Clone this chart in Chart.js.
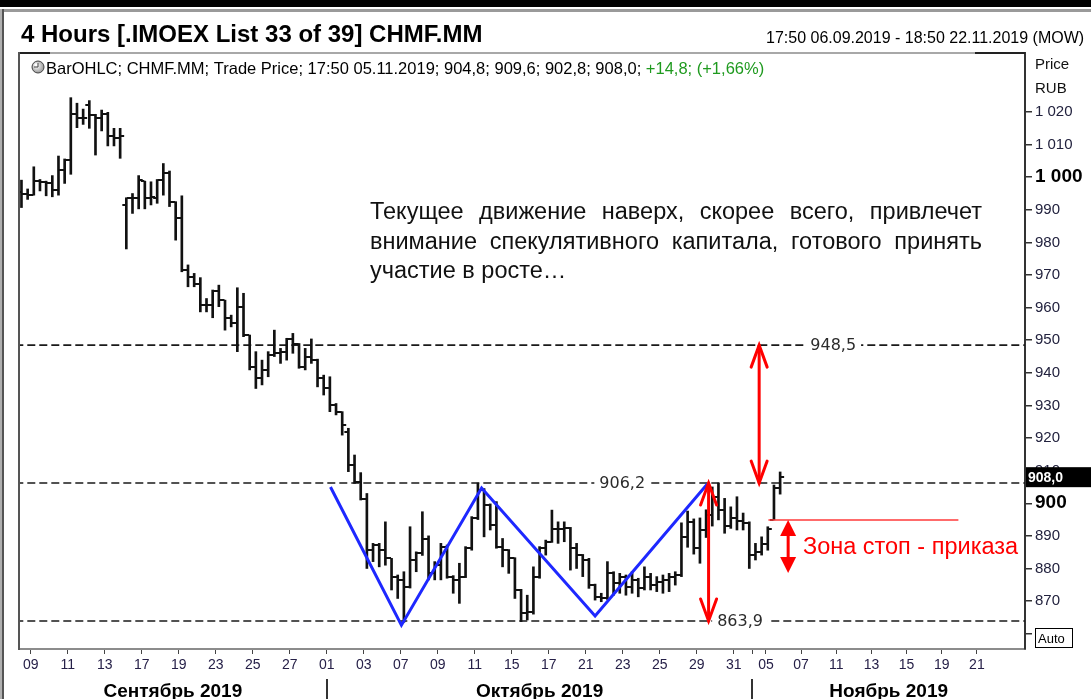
<!DOCTYPE html>
<html><head><meta charset="utf-8">
<script src="https://cdn.jsdelivr.net/npm/chart.js@4/dist/chart.umd.min.js"></script>
<style>html,body{margin:0;padding:0;background:#fff;overflow:hidden}canvas{display:block}</style>
</head><body><canvas id="c" width="1091" height="699"></canvas>
<script>
// ---- DATA (4-hour OHLC bars, CHMF.MM, from 17:50 06.09.2019 to 17:50 05.11.2019) ----
const barOpen = [
 995.4,995.0,994.7,998.9,998.6,998.1,996.1,1002.2,1005.3,1019.3,
 1018.1,1022.1,1019.1,1018.1,1019.3,1012.7,1011.9,991.5,993.5,993.5,
 998.8,993.5,993.5,999.0,1001.2,992.5,987.4,971.5,969.5,967.4,
 960.8,960.8,965.0,962.3,956.7,955.2,960.3,951.6,941.9,938.3,
 940.9,945.5,946.0,946.5,950.4,949.0,941.9,945.0,943.9,938.3,
 935.2,930.1,928.1,922.0,911.7,906.6,901.2,885.6,887.2,885.6,
 883.1,877.5,876.5,874.4,882.6,884.6,889.0,878.5,881.0,886.7,
 877.5,876.5,877.5,886.2,895.4,904.0,899.5,893.3,886.7,885.6,
 883.1,873.4,866.2,866.5,877.5,886.2,888.2,892.0,892.0,892.3,
 886.2,884.1,882.6,874.9,871.3,870.8,878.5,875.4,877.5,874.4,
 876.5,873.9,877.5,874.9,875.9,876.5,877.5,878.0,889.7,894.3,
 886.2,891.8,896.5,902.0,898.0,893.0,895.5,894.5,893.8,884.0,
 885.0,887.5,895.0,904.8];
const barHigh = [
 999.1,996.4,1003.2,999.3,998.8,1000.5,1006.5,1005.6,1024.4,1022.7,
 1020.9,1023.5,1019.3,1020.6,1019.9,1015.0,1015.0,993.7,995.0,1000.5,
 998.8,998.6,999.3,1004.2,1001.9,992.5,994.3,973.1,970.5,969.2,
 962.8,965.4,966.9,962.3,957.7,966.1,964.4,951.6,946.5,943.9,
 946.5,953.1,947.5,950.6,952.1,949.0,947.5,950.4,944.2,939.3,
 938.8,930.6,928.1,923.0,914.8,909.4,903.0,887.7,887.7,894.3,
 883.1,878.0,879.0,892.8,885.1,897.4,890.0,882.1,887.7,887.2,
 877.8,881.6,886.7,895.9,906.2,904.5,899.8,900.5,889.2,885.8,
 883.3,873.6,871.8,880.5,886.7,888.7,897.9,894.3,894.3,892.6,
 887.7,884.3,883.1,875.2,872.4,882.1,879.0,878.5,878.0,879.0,
 877.0,880.5,878.5,877.5,878.0,878.5,879.0,894.0,897.6,895.2,
 895.5,898.0,905.0,906.2,901.5,898.9,902.0,897.0,894.3,887.7,
 889.7,892.8,905.6,909.6];
const barLow = [
 990.7,993.2,994.5,995.8,994.3,994.0,994.5,998.1,1000.9,1015.2,
 1016.2,1015.0,1006.8,1014.2,1009.6,1009.6,1005.8,978.0,988.9,990.3,
 990.3,991.5,992.0,994.5,991.0,980.7,971.0,966.4,966.4,958.7,
 958.7,956.9,960.3,953.1,954.1,946.5,951.1,940.9,935.2,936.3,
 938.8,945.0,942.9,943.9,946.0,941.4,940.9,942.9,935.7,933.2,
 928.1,927.1,920.9,909.7,906.1,901.0,880.0,882.1,880.5,881.0,
 873.4,870.8,863.5,874.0,879.0,884.0,876.5,876.5,876.5,877.0,
 872.4,869.3,877.2,885.6,895.0,889.7,891.8,886.2,880.5,878.5,
 870.8,863.7,864.2,866.0,877.0,884.1,888.0,887.7,888.2,879.5,
 880.0,877.5,873.9,870.3,869.8,870.5,871.8,872.4,871.8,872.4,
 871.3,873.4,873.4,872.9,872.4,872.9,874.9,877.5,886.5,884.4,
 881.6,889.5,893.0,894.9,890.8,892.3,891.8,891.8,880.0,882.6,
 884.1,885.6,894.9,902.8];
const barClose = [
 995.0,994.7,998.9,998.6,998.1,996.1,1002.2,1005.3,1019.3,1018.1,
 1018.1,1019.1,1018.1,1019.3,1012.7,1011.9,1012.5,993.5,993.5,999.0,
 993.5,994.0,999.0,1001.2,992.5,987.4,971.5,969.5,967.4,960.8,
 960.8,965.0,962.3,956.7,955.2,960.3,951.6,941.9,938.3,940.9,
 945.5,946.0,946.5,950.4,949.0,941.9,945.0,943.9,938.3,935.2,
 930.1,928.1,924.0,911.7,906.6,901.2,885.6,887.2,885.6,883.1,
 877.5,876.5,874.4,882.6,884.6,889.0,878.5,881.0,886.7,877.5,
 876.5,877.5,886.2,895.4,904.0,899.5,893.3,886.7,885.6,883.1,
 873.4,866.2,866.5,877.5,886.2,888.2,892.0,892.0,892.3,886.2,
 884.1,882.6,874.9,871.3,870.8,878.5,875.4,877.5,874.4,876.5,
 873.9,877.5,874.9,875.9,876.5,877.5,878.0,889.7,894.3,886.2,
 891.8,896.5,902.0,898.0,893.0,895.5,894.5,893.8,884.0,885.0,
 887.5,892.0,904.8,908.0];

// trading-day axis (day 0 = 09.09.2019, bar 0 = 06.09 17:50; 3 bars per trading day)
const tickDays   = [0,2,4,6,8,10,12,14,16,18,20,22,24,26,28,30,32,34,36,38,39,40,42,44,46,48,50,52];
const tickLabels = ['09','11','13','17','19','23','25','27','01','03','07','09','11','15','17','21','23','25','29','31','','05','07','11','13','15','19','21'];
const monthStartDays = [16, 39];
const monthNames = ['Сентябрь 2019','Октябрь 2019','Ноябрь 2019'];
const priceTicks = [860,870,880,890,900,910,920,930,940,950,960,970,980,990,1000,1010,1020];

// annotations (data units: bar index / price)
const levelValues = [948.5, 906.2, 863.9];
const levelLabels = ['948,5','906,2','863,9'];
const levelLabelAt = [131.6, 97.4, 116.5];
const zigzagIdx = [50.1, 61.6, 74.6, 93.0, 111.2];
const zigzagVal = [905.0, 862.6, 904.7, 865.4, 905.9];
const arrowIdx  = [111.4, 119.6];
const arrowFrom = [863.9, 906.2];
const arrowTo   = [906.2, 948.5];
const stopLineIdx = [121.1, 151.9];
const stopLineVal = 894.9;
const stopArrowIdx = 124.3;
const stopArrowVals = [894.9, 878.6];
const stopText = 'Зона стоп - приказа';
const stopTextAt = [126.7, 886.5];
const commentLines = ['Текущее движение наверх, скорее всего, привлечет','внимание спекулятивного капитала, готового принять','участие в росте…'];
const lastPrice = 908.0;

const BPD = 3, LAST_DATA_DAY = 40, FUTURE_BPD = 2.85;
const dayToBar = d => d <= LAST_DATA_DAY ? 1 + BPD * d + 0.5 - (d === LAST_DATA_DAY ? 0.8 : 0)
                                         : 1 + BPD * LAST_DATA_DAY - 0.3 + (d - LAST_DATA_DAY) * FUTURE_BPD;
const fmtPrice = v => v >= 1000 ? '1 ' + String(v - 1000).padStart(3, '0') : String(v);
const SANS = '"Liberation Sans", Arial, sans-serif';

const overlay = {
  id: 'overlay',
  beforeDraw(chart) {
    const c = chart.ctx; c.save(); c.fillStyle = '#fff'; c.fillRect(0, 0, chart.width, chart.height); c.restore();
  },
  afterDatasetDraw(chart, args) {
    if (args.index !== 3) return;
    const c = chart.ctx, xs = chart.scales.x, ys = chart.scales.y, a = chart.chartArea;
    c.save();
    c.beginPath(); c.rect(a.left, a.top, a.right - a.left, a.bottom - a.top); c.clip();
    c.fillStyle = '#111';
    for (let i = 0; i < barOpen.length; i++) {
      const x = xs.getPixelForValue(i);
      const yo = ys.getPixelForValue(barOpen[i]);
      const yc = ys.getPixelForValue(barClose[i]);
      c.fillRect(x - 4, Math.round(yo) - 1, 3.5, 2);
      c.fillRect(x + 0.5, Math.round(yc) - 1, 3.5, 2);
    }
    c.restore();
  },
  afterDatasetsDraw(chart) {
    const c = chart.ctx, xs = chart.scales.x, ys = chart.scales.y;
    c.save();
    // level labels
    c.font = '16px "DejaVu Sans", sans-serif';
    c.textBaseline = 'middle'; c.textAlign = 'center';
    levelValues.forEach((v, k) => {
      const x = xs.getPixelForValue(levelLabelAt[k]), y = ys.getPixelForValue(v);
      const w = c.measureText(levelLabels[k]).width;
      c.fillStyle = '#fff'; c.fillRect(x - w / 2 - 5, y - 9, w + 10, 18);
      c.fillStyle = '#2b2b2b'; c.fillText(levelLabels[k], x, y + 1);
    });
    // red double arrows (open heads)
    c.strokeStyle = '#ff0000'; c.lineWidth = 3; c.lineCap = 'round';
    arrowIdx.forEach((ix, k) => {
      const x = xs.getPixelForValue(ix), y1 = ys.getPixelForValue(arrowFrom[k]), y2 = ys.getPixelForValue(arrowTo[k]);
      c.beginPath(); c.moveTo(x, y1); c.lineTo(x, y2); c.stroke();
      c.beginPath();
      c.moveTo(x - 8, y2 + 22); c.lineTo(x, y2); c.lineTo(x + 8, y2 + 22);
      c.moveTo(x - 8, y1 - 22); c.lineTo(x, y1); c.lineTo(x + 8, y1 - 22);
      c.stroke();
    });
    // stop zone arrow (filled heads)
    const sx = xs.getPixelForValue(stopArrowIdx), st = ys.getPixelForValue(stopArrowVals[0]), sb = ys.getPixelForValue(stopArrowVals[1]);
    c.fillStyle = '#ff0000';
    c.lineWidth = 3; c.lineCap = 'butt';
    c.beginPath(); c.moveTo(sx, st + 10); c.lineTo(sx, sb - 10); c.stroke();
    c.beginPath(); c.moveTo(sx, st); c.lineTo(sx - 8, st + 16); c.lineTo(sx + 8, st + 16); c.closePath(); c.fill();
    c.beginPath(); c.moveTo(sx, sb); c.lineTo(sx - 8, sb - 16); c.lineTo(sx + 8, sb - 16); c.closePath(); c.fill();
    // stop zone text
    c.font = '23.5px ' + SANS; c.textAlign = 'left'; c.textBaseline = 'middle';
    c.fillText(stopText, xs.getPixelForValue(stopTextAt[0]), ys.getPixelForValue(stopTextAt[1]));
    // comment text (justified)
    c.fillStyle = '#111'; c.font = '23.5px ' + SANS; c.textBaseline = 'alphabetic';
    const left = 370, width = 612, base = [219, 249, 278];
    commentLines.forEach((line, li) => {
      if (li === commentLines.length - 1) { c.fillText(line, left, base[li]); return; }
      const words = line.split(' ');
      const sum = words.reduce((s, w) => s + c.measureText(w).width, 0);
      const gap = (width - sum) / (words.length - 1);
      let cx = left;
      words.forEach(w => { c.fillText(w, cx, base[li]); cx += c.measureText(w).width + gap; });
    });
    c.restore();
  },
  afterDraw(chart) {
    const c = chart.ctx, xs = chart.scales.x, ys = chart.scales.y, a = chart.chartArea;
    c.save();
    // window frame
    c.fillStyle = '#000'; c.fillRect(0, 0, chart.width, 7);
    c.fillStyle = '#9a9a9a'; c.fillRect(0, 9, chart.width, 3);
    c.fillStyle = '#b0b0b0'; c.fillRect(0, 9, 2, chart.height);
    c.fillStyle = '#555'; c.fillRect(2, 9, 2, chart.height);
    // plot frame
    c.fillStyle = '#a8a8a8'; c.fillRect(a.left, a.top - 1, a.right - a.left, 2);
    c.fillStyle = '#222'; c.fillRect(a.left - 1, a.top - 1, 32, 2);
    c.fillStyle = '#222'; c.fillRect(a.right - 50, a.top - 1, 50, 2);
    c.fillStyle = '#555'; c.fillRect(a.left - 1, a.top - 1, 2, a.bottom - a.top + 2);
    // title
    c.fillStyle = '#000'; c.textBaseline = 'alphabetic'; c.textAlign = 'left';
    c.font = 'bold 24px ' + SANS; c.fillText('4 Hours [.IMOEX List 33 of 39] CHMF.MM', 21, 42);
    c.font = '16px ' + SANS; c.fillText('17:50 06.09.2019 - 18:50 22.11.2019 (MOW)', 766, 43);
    // legend
    const lx = 38, ly = 67;
    const g = c.createRadialGradient(lx - 2, ly - 2, 1, lx, ly, 7);
    g.addColorStop(0, '#ffffff'); g.addColorStop(1, '#8a8a8a');
    c.fillStyle = g; c.beginPath(); c.arc(lx, ly, 6, 0, Math.PI * 2); c.fill();
    c.strokeStyle = '#444'; c.lineWidth = 1; c.stroke();
    c.beginPath(); c.moveTo(lx, ly - 4); c.lineTo(lx, ly); c.lineTo(lx - 4, ly); c.stroke();
    c.font = '16.5px ' + SANS; c.fillStyle = '#000';
    const part1 = 'BarOHLC; CHMF.MM; Trade Price; 17:50 05.11.2019; 904,8; 909,6; 902,8; 908,0; ';
    c.fillText(part1, 46, 74);
    c.fillStyle = '#1f9a1f'; c.fillText('+14,8; (+1,66%)', 46 + c.measureText(part1).width, 74);
    // price axis header
    c.fillStyle = '#111'; c.font = '15px ' + SANS;
    c.fillText('Price', 1035, 69); c.fillText('RUB', 1035, 93);
    // last price box
    const yl = ys.getPixelForValue(lastPrice);
    c.fillStyle = '#000'; c.fillRect(a.right + 1, yl - 10, chart.width - a.right, 20);
    c.fillStyle = '#fff'; c.font = 'bold 14px ' + SANS; c.textBaseline = 'middle';
    c.fillText(lastPrice.toFixed(1).replace('.', ','), a.right + 3, yl + 1);
    // auto box
    c.fillStyle = '#fff'; c.fillRect(1035, 628, 37, 19);
    c.strokeStyle = '#000'; c.lineWidth = 1; c.strokeRect(1035.5, 628.5, 37, 19);
    c.fillStyle = '#000'; c.font = '13px ' + SANS; c.textBaseline = 'alphabetic';
    c.fillText('Auto', 1038, 643);
    // month separators and names
    const seps = monthStartDays.map(d => xs.getPixelForValue(dayToBar(d)));
    c.fillStyle = '#333';
    seps.forEach(x => c.fillRect(Math.round(x) - 1, 679, 2, 20));
    const bounds = [a.left, ...seps, a.right];
    c.font = 'bold 19px ' + SANS; c.textAlign = 'center'; c.fillStyle = '#000';
    monthNames.forEach((m, k) => c.fillText(m, (bounds[k] + bounds[k + 1]) / 2, 697));
    c.restore();
  }
};

const levelSets = levelValues.map(v => ({
  type: 'line', data: [{x: -1, y: v}, {x: 170, y: v}], borderColor: '#1a1a1a', borderWidth: 1.6,
  borderDash: [8, 4], pointRadius: 0, order: 5
}));

new Chart(document.getElementById('c').getContext('2d'), {
  type: 'bar',
  data: {
    datasets: [
      ...levelSets,
      { type: 'bar', data: barLow.map((l, i) => ({x: i, y: [l, barHigh[i]]})), backgroundColor: '#111',
        barThickness: 2, grouped: false, order: 4 },
      { type: 'line', data: zigzagIdx.map((x, i) => ({x, y: zigzagVal[i]})), borderColor: '#1e28ff', borderWidth: 3,
        pointRadius: 0, tension: 0, order: 2 },
      { type: 'line', data: stopLineIdx.map(x => ({x, y: stopLineVal})), borderColor: '#ff3a3a', borderWidth: 1.5,
        pointRadius: 0, order: 1 }
    ]
  },
  options: {
    responsive: false, animation: false, devicePixelRatio: 1,
    layout: {padding: {left: 19, top: 53, right: 0, bottom: 0}},
    plugins: {legend: {display: false}, tooltip: {enabled: false}},
    scales: {
      x: {
        type: 'linear', min: -0.4, max: 162.7, offset: false,
        grid: {offset: false, drawOnChartArea: false, drawTicks: true, tickLength: 5, color: '#444'},
        border: {display: true, color: '#8c8c8c', width: 2},
        afterBuildTicks: s => { s.ticks = tickDays.map(d => ({value: dayToBar(d)})); },
        afterFit: s => { s.height = 50; },
        ticks: {autoSkip: false, maxRotation: 0, padding: 3, color: '#262048',
          font: {family: SANS, size: 14},
          callback: (v, i) => tickLabels[i]}
      },
      y: {
        position: 'right', min: 855.3, max: 1038.1,
        grid: {drawOnChartArea: false, drawTicks: true, tickLength: 7, color: '#333', lineWidth: 1.5},
        border: {display: true, color: '#333', width: 2},
        afterBuildTicks: s => { s.ticks = priceTicks.map(v => ({value: v})); },
        afterFit: s => { s.width = 66; },
        ticks: {padding: 3, color: ctx => (ctx.tick && (ctx.tick.value === 1000 || ctx.tick.value === 900)) ? '#000' : '#22223e',
          font: ctx => (ctx.tick && (ctx.tick.value === 1000 || ctx.tick.value === 900)) ? {family: SANS, size: 19, weight: 'bold'} : {family: SANS, size: 15},
          callback: v => v === 860 ? '' : fmtPrice(v)}
      }
    }
  },
  plugins: [overlay]
});
</script></body></html>
